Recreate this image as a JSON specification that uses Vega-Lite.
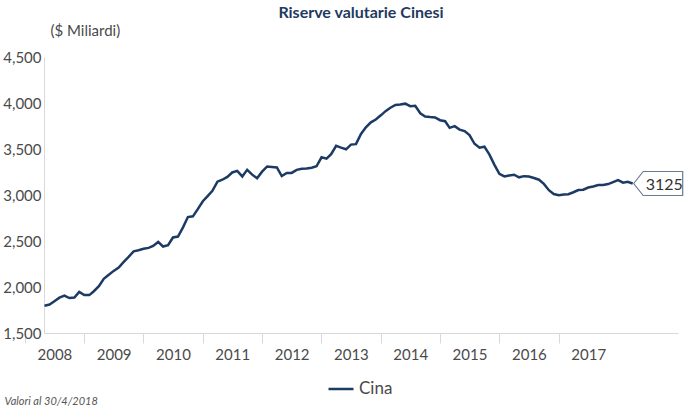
{
  "$schema": "https://vega.github.io/schema/vega-lite/v6.json",
  "width": 634,
  "height": 276,
  "autosize": {"type": "none"},
  "padding": {"left": 44, "top": 57, "right": 20, "bottom": 77},
  "background": "white",
  "config": {
    "view": {"stroke": null},
    "font": "Lato",
    "title": {"font": "Lato"}
  },
  "title": {
    "text": "Riserve valutarie Cinesi",
    "fontSize": 16,
    "fontWeight": "bold",
    "color": "#1f3a60",
    "anchor": "middle",
    "offset": 2
  },
  "data": {
    "values": [
      {"date": "2008-05-01", "value": 1797, "series": "Cina"},
      {"date": "2008-06-01", "value": 1809, "series": "Cina"},
      {"date": "2008-07-01", "value": 1845, "series": "Cina"},
      {"date": "2008-08-01", "value": 1884, "series": "Cina"},
      {"date": "2008-09-01", "value": 1906, "series": "Cina"},
      {"date": "2008-10-01", "value": 1880, "series": "Cina"},
      {"date": "2008-11-01", "value": 1885, "series": "Cina"},
      {"date": "2008-12-01", "value": 1946, "series": "Cina"},
      {"date": "2009-01-01", "value": 1913, "series": "Cina"},
      {"date": "2009-02-01", "value": 1912, "series": "Cina"},
      {"date": "2009-03-01", "value": 1954, "series": "Cina"},
      {"date": "2009-04-01", "value": 2009, "series": "Cina"},
      {"date": "2009-05-01", "value": 2089, "series": "Cina"},
      {"date": "2009-06-01", "value": 2132, "series": "Cina"},
      {"date": "2009-07-01", "value": 2175, "series": "Cina"},
      {"date": "2009-08-01", "value": 2211, "series": "Cina"},
      {"date": "2009-09-01", "value": 2273, "series": "Cina"},
      {"date": "2009-10-01", "value": 2328, "series": "Cina"},
      {"date": "2009-11-01", "value": 2388, "series": "Cina"},
      {"date": "2009-12-01", "value": 2399, "series": "Cina"},
      {"date": "2010-01-01", "value": 2415, "series": "Cina"},
      {"date": "2010-02-01", "value": 2425, "series": "Cina"},
      {"date": "2010-03-01", "value": 2447, "series": "Cina"},
      {"date": "2010-04-01", "value": 2490, "series": "Cina"},
      {"date": "2010-05-01", "value": 2440, "series": "Cina"},
      {"date": "2010-06-01", "value": 2454, "series": "Cina"},
      {"date": "2010-07-01", "value": 2538, "series": "Cina"},
      {"date": "2010-08-01", "value": 2548, "series": "Cina"},
      {"date": "2010-09-01", "value": 2648, "series": "Cina"},
      {"date": "2010-10-01", "value": 2760, "series": "Cina"},
      {"date": "2010-11-01", "value": 2768, "series": "Cina"},
      {"date": "2010-12-01", "value": 2847, "series": "Cina"},
      {"date": "2011-01-01", "value": 2932, "series": "Cina"},
      {"date": "2011-02-01", "value": 2991, "series": "Cina"},
      {"date": "2011-03-01", "value": 3045, "series": "Cina"},
      {"date": "2011-04-01", "value": 3145, "series": "Cina"},
      {"date": "2011-05-01", "value": 3166, "series": "Cina"},
      {"date": "2011-06-01", "value": 3197, "series": "Cina"},
      {"date": "2011-07-01", "value": 3245, "series": "Cina"},
      {"date": "2011-08-01", "value": 3262, "series": "Cina"},
      {"date": "2011-09-01", "value": 3202, "series": "Cina"},
      {"date": "2011-10-01", "value": 3274, "series": "Cina"},
      {"date": "2011-11-01", "value": 3221, "series": "Cina"},
      {"date": "2011-12-01", "value": 3181, "series": "Cina"},
      {"date": "2012-01-01", "value": 3254, "series": "Cina"},
      {"date": "2012-02-01", "value": 3310, "series": "Cina"},
      {"date": "2012-03-01", "value": 3305, "series": "Cina"},
      {"date": "2012-04-01", "value": 3299, "series": "Cina"},
      {"date": "2012-05-01", "value": 3206, "series": "Cina"},
      {"date": "2012-06-01", "value": 3240, "series": "Cina"},
      {"date": "2012-07-01", "value": 3240, "series": "Cina"},
      {"date": "2012-08-01", "value": 3273, "series": "Cina"},
      {"date": "2012-09-01", "value": 3285, "series": "Cina"},
      {"date": "2012-10-01", "value": 3287, "series": "Cina"},
      {"date": "2012-11-01", "value": 3297, "series": "Cina"},
      {"date": "2012-12-01", "value": 3312, "series": "Cina"},
      {"date": "2013-01-01", "value": 3410, "series": "Cina"},
      {"date": "2013-02-01", "value": 3395, "series": "Cina"},
      {"date": "2013-03-01", "value": 3443, "series": "Cina"},
      {"date": "2013-04-01", "value": 3534, "series": "Cina"},
      {"date": "2013-05-01", "value": 3515, "series": "Cina"},
      {"date": "2013-06-01", "value": 3497, "series": "Cina"},
      {"date": "2013-07-01", "value": 3548, "series": "Cina"},
      {"date": "2013-08-01", "value": 3553, "series": "Cina"},
      {"date": "2013-09-01", "value": 3663, "series": "Cina"},
      {"date": "2013-10-01", "value": 3736, "series": "Cina"},
      {"date": "2013-11-01", "value": 3790, "series": "Cina"},
      {"date": "2013-12-01", "value": 3821, "series": "Cina"},
      {"date": "2014-01-01", "value": 3866, "series": "Cina"},
      {"date": "2014-02-01", "value": 3914, "series": "Cina"},
      {"date": "2014-03-01", "value": 3948, "series": "Cina"},
      {"date": "2014-04-01", "value": 3979, "series": "Cina"},
      {"date": "2014-05-01", "value": 3984, "series": "Cina"},
      {"date": "2014-06-01", "value": 3993, "series": "Cina"},
      {"date": "2014-07-01", "value": 3966, "series": "Cina"},
      {"date": "2014-08-01", "value": 3969, "series": "Cina"},
      {"date": "2014-09-01", "value": 3888, "series": "Cina"},
      {"date": "2014-10-01", "value": 3853, "series": "Cina"},
      {"date": "2014-11-01", "value": 3847, "series": "Cina"},
      {"date": "2014-12-01", "value": 3843, "series": "Cina"},
      {"date": "2015-01-01", "value": 3813, "series": "Cina"},
      {"date": "2015-02-01", "value": 3802, "series": "Cina"},
      {"date": "2015-03-01", "value": 3730, "series": "Cina"},
      {"date": "2015-04-01", "value": 3748, "series": "Cina"},
      {"date": "2015-05-01", "value": 3711, "series": "Cina"},
      {"date": "2015-06-01", "value": 3694, "series": "Cina"},
      {"date": "2015-07-01", "value": 3651, "series": "Cina"},
      {"date": "2015-08-01", "value": 3557, "series": "Cina"},
      {"date": "2015-09-01", "value": 3514, "series": "Cina"},
      {"date": "2015-10-01", "value": 3525, "series": "Cina"},
      {"date": "2015-11-01", "value": 3438, "series": "Cina"},
      {"date": "2015-12-01", "value": 3330, "series": "Cina"},
      {"date": "2016-01-01", "value": 3231, "series": "Cina"},
      {"date": "2016-02-01", "value": 3202, "series": "Cina"},
      {"date": "2016-03-01", "value": 3213, "series": "Cina"},
      {"date": "2016-04-01", "value": 3220, "series": "Cina"},
      {"date": "2016-05-01", "value": 3192, "series": "Cina"},
      {"date": "2016-06-01", "value": 3205, "series": "Cina"},
      {"date": "2016-07-01", "value": 3201, "series": "Cina"},
      {"date": "2016-08-01", "value": 3185, "series": "Cina"},
      {"date": "2016-09-01", "value": 3166, "series": "Cina"},
      {"date": "2016-10-01", "value": 3121, "series": "Cina"},
      {"date": "2016-11-01", "value": 3052, "series": "Cina"},
      {"date": "2016-12-01", "value": 3011, "series": "Cina"},
      {"date": "2017-01-01", "value": 2998, "series": "Cina"},
      {"date": "2017-02-01", "value": 3005, "series": "Cina"},
      {"date": "2017-03-01", "value": 3009, "series": "Cina"},
      {"date": "2017-04-01", "value": 3030, "series": "Cina"},
      {"date": "2017-05-01", "value": 3054, "series": "Cina"},
      {"date": "2017-06-01", "value": 3057, "series": "Cina"},
      {"date": "2017-07-01", "value": 3081, "series": "Cina"},
      {"date": "2017-08-01", "value": 3092, "series": "Cina"},
      {"date": "2017-09-01", "value": 3109, "series": "Cina"},
      {"date": "2017-10-01", "value": 3109, "series": "Cina"},
      {"date": "2017-11-01", "value": 3119, "series": "Cina"},
      {"date": "2017-12-01", "value": 3140, "series": "Cina"},
      {"date": "2018-01-01", "value": 3161, "series": "Cina"},
      {"date": "2018-02-01", "value": 3134, "series": "Cina"},
      {"date": "2018-03-01", "value": 3143, "series": "Cina"},
      {"date": "2018-04-01", "value": 3125, "series": "Cina", "callout": true}
    ]
  },
  "encoding": {
    "x": {
      "field": "date",
      "type": "temporal",
      "scale": {"domain": [{"year": 2008, "month": 4, "date": 28}, {"year": 2019, "month": 1, "date": 5}]},
      "axis": {
        "values": [
          {"year": 2008, "month": 7, "date": 1},
          {"year": 2009, "month": 7, "date": 1},
          {"year": 2010, "month": 7, "date": 1},
          {"year": 2011, "month": 7, "date": 1},
          {"year": 2012, "month": 7, "date": 1},
          {"year": 2013, "month": 7, "date": 1},
          {"year": 2014, "month": 7, "date": 1},
          {"year": 2015, "month": 7, "date": 1},
          {"year": 2016, "month": 7, "date": 1},
          {"year": 2017, "month": 7, "date": 1}
        ],
        "format": "%Y",
        "grid": false,
        "domainColor": "#d9d9d9",
        "domainWidth": 1,
        "tickColor": "#d9d9d9",
        "tickSize": 10,
        "tickOffset": -29.5,
        "labelOffset": 29.5,
        "labelFontSize": 15,
        "labelColor": "#4a4a4a",
        "labelPadding": 4,
        "labelFlush": false,
        "labelOverlap": false,
        "title": "Valori al 30/4/2018",
        "titleFontSize": 11,
        "titleFontStyle": "italic",
        "titleFontWeight": "normal",
        "titleColor": "#555555",
        "titleAnchor": "start",
        "titleAlign": "left",
        "titleBaseline": "alphabetic",
        "titleX": -40,
        "titleY": 71
      }
    },
    "y": {
      "field": "value",
      "type": "quantitative",
      "scale": {"domain": [1500, 4500], "nice": false, "zero": false},
      "axis": {
        "values": [1500, 2000, 2500, 3000, 3500, 4000, 4500],
        "format": ",d",
        "grid": false,
        "ticks": false,
        "domainColor": "#d9d9d9",
        "labelFontSize": 15,
        "labelColor": "#4a4a4a",
        "labelPadding": 3,
        "title": "($ Miliardi)",
        "titleAngle": 0,
        "titleAlign": "left",
        "titleBaseline": "alphabetic",
        "titleX": 6,
        "titleY": -22,
        "titleFontSize": 15,
        "titleFontWeight": "normal",
        "titleColor": "#4a4a4a"
      }
    }
  },
  "layer": [
    {
      "mark": {"type": "line", "strokeWidth": 2.5, "interpolate": "linear"},
      "encoding": {
        "color": {
          "field": "series",
          "type": "nominal",
          "scale": {"range": ["#1c3a63"]},
          "legend": {
            "title": null,
            "orient": "none",
            "legendX": 283,
            "legendY": 318,
            "direction": "horizontal",
            "symbolType": "stroke",
            "symbolSize": 625,
            "symbolStrokeWidth": 2.5,
            "labelFontSize": 17,
            "labelColor": "#4a4a4a"
          }
        }
      }
    },
    {
      "transform": [{"filter": "datum.callout === true"}],
      "mark": {
        "type": "point",
        "shape": "M0.04,0 L0.42,-0.48 L2,-0.48 L2,0.48 L0.42,0.48 Z",
        "size": 2500,
        "filled": false,
        "fill": "white",
        "fillOpacity": 1,
        "stroke": "#6b7b93",
        "strokeWidth": 1.2,
        "opacity": 1
      }
    },
    {
      "transform": [{"filter": "datum.callout === true"}],
      "mark": {
        "type": "text",
        "align": "left",
        "baseline": "middle",
        "dx": 13,
        "dy": 1,
        "fontSize": 16,
        "color": "#333333"
      },
      "encoding": {"text": {"field": "value", "type": "quantitative", "format": "d"}}
    }
  ]
}
